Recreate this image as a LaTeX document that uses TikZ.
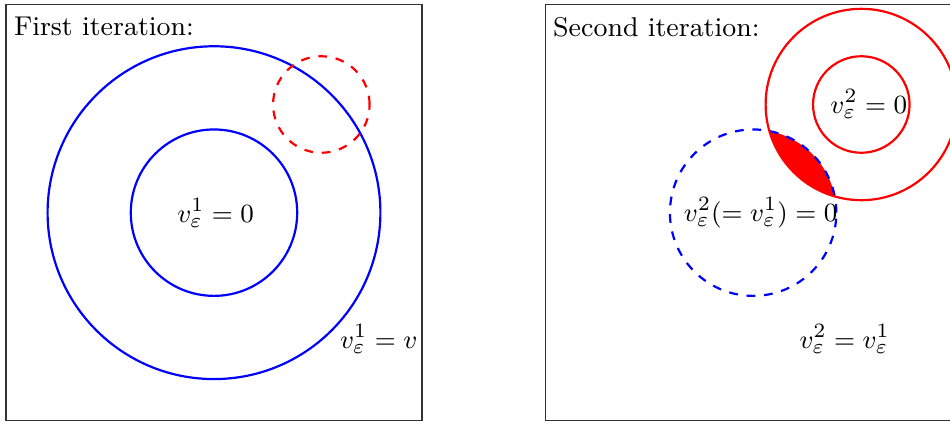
\documentclass[tikz,border=0pt]{standalone}
\usepackage{amsmath}
\begin{document}
\begin{tikzpicture}[x=83.2pt/2.92,y=83.2pt/2.92,
  every node/.style={font=\fontsize{9.3pt}{11pt}\selectfont, inner sep=0pt},
  frame/.style={draw=black!80, line width=0.4pt},
  ring/.style={line width=0.75pt},
  title/.style={anchor=north west}]
\clip (-2.572,-2.528) rectangle (8.846,2.556);
% ---------- first panel ----------
\draw[frame] (-2.5,-2.5) rectangle (2.5,2.5);
\node[title] (t1) at (-2.41,2.36) {First iteration:};
\draw[ring, blue] (0,0) circle (2);
\draw[ring, blue] (0,0) circle (1);
\draw[ring, red, dashed] (1.29,1.3) circle (0.58);
\node (a1) at (0.02,0) {$v^1_\varepsilon=0$};
\node (a2) at (1.98,-1.52) {$v^1_\varepsilon=v$};
% ---------- second panel ----------
\begin{scope}[xshift=6.48*83.2pt/2.92]
\draw[frame] (-2.5,-2.5) rectangle (2.5,2.5);
\node[title] (t2) at (-2.41,2.36) {Second iteration:};
\begin{scope}
  \clip (0,0) circle (1);
  \fill[red] (1.3,1.3) circle (1.15);
\end{scope}
\draw[ring, blue, dashed] (0,0) circle (1);
\draw[ring, red] (1.3,1.3) circle (1.15);
\draw[ring, red] (1.3,1.3) circle (0.58);
\node (b1) at (1.39,1.31) {$v^2_\varepsilon=0$};
\node (b2) at (0.09,0) {$v^2_\varepsilon(=v^1_\varepsilon)=0$};
\node (b3) at (1.1,-1.52) {$v^2_\varepsilon=v^1_\varepsilon$};
\end{scope}
\end{tikzpicture}
\end{document}
